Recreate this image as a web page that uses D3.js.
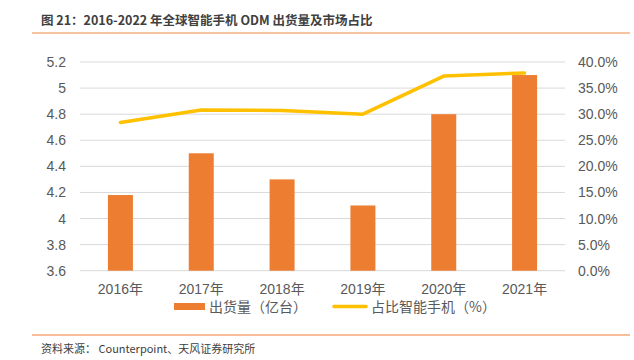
<!DOCTYPE html>
<html>
<head>
<meta charset="UTF-8">
<title>ODM shipments</title>
<style>
    body { margin: 0; padding: 0; background: #fff; }
    svg { display: block; font-family: "Noto Sans CJK SC", "Liberation Sans", sans-serif; }
</style>
</head>
<body>
<svg width="634" height="360"></svg>
<script src="https://cdnjs.cloudflare.com/ajax/libs/d3/7.8.5/d3.min.js"></script>
<script>
    var years = ["2016年", "2017年", "2018年", "2019年", "2020年", "2021年"];
    var shipments = [4.18, 4.5, 4.3, 4.1, 4.8, 5.1];
    var share = [0.284, 0.308, 0.307, 0.300, 0.373, 0.379];
    var leftTicks = [3.6, 3.8, 4, 4.2, 4.4, 4.6, 4.8, 5, 5.2];
    var rightTicks = [0, 0.05, 0.1, 0.15, 0.2, 0.25, 0.3, 0.35, 0.4];

    var svg = d3.select("svg"),
        plotL = 80, plotR = 565, plotT = 62, plotB = 270.7;

    var x = d3.scaleBand().domain(years).range([plotL, plotR]);
    var y = d3.scaleLinear().domain([3.6, 5.2]).range([plotB, plotT]);
    var y2 = d3.scaleLinear().domain([0, 0.4]).range([plotB, plotT]);

    // title + rules
    svg.append("text").attr("x", 41).attr("y", 25)
        .attr("font-size", 12.5).attr("font-weight", "bold").attr("fill", "#404040")
        .text("图 21：2016-2022 年全球智能手机 ODM 出货量及市场占比");
    svg.append("line").attr("x1", 32).attr("x2", 630).attr("y1", 33).attr("y2", 33)
        .attr("stroke", "#F4B183").attr("stroke-width", 1.5);
    svg.append("line").attr("x1", 32).attr("x2", 630).attr("y1", 335).attr("y2", 335)
        .attr("stroke", "#ED7D31").attr("stroke-width", 1);
    svg.append("text").attr("x", 41).attr("y", 353)
        .attr("font-size", 11).attr("fill", "#404040")
        .text("资料来源： Counterpoint、天风证券研究所");

    // gridlines
    svg.append("g").selectAll("line").data(leftTicks).enter().append("line")
        .attr("x1", plotL).attr("x2", plotR)
        .attr("y1", function (d) { return y(d); }).attr("y2", function (d) { return y(d); })
        .attr("stroke", "#D9D9D9").attr("stroke-width", 1);

    // left axis
    var ya = svg.append("g").attr("transform", "translate(" + plotL + ",0)")
        .call(d3.axisLeft(y).tickValues(leftTicks).tickSize(0).tickPadding(14)
            .tickFormat(function (d) { return String(+d.toFixed(1)); }));
    ya.select(".domain").remove();
    ya.selectAll("text").attr("font-size", 14).attr("fill", "#595959")
        .attr("font-family", "Liberation Sans, sans-serif");

    // right axis
    var yb = svg.append("g").attr("transform", "translate(" + plotR + ",0)")
        .call(d3.axisRight(y2).tickValues(rightTicks).tickSize(0).tickPadding(13)
            .tickFormat(d3.format(".1%")));
    yb.select(".domain").remove();
    yb.selectAll("text").attr("font-size", 14).attr("fill", "#595959")
        .attr("font-family", "Liberation Sans, sans-serif");

    // x axis
    var xa = svg.append("g").attr("transform", "translate(0," + plotB + ")")
        .call(d3.axisBottom(x).tickSize(0).tickPadding(13));
    xa.select(".domain").remove();
    xa.selectAll("text").attr("font-size", 14).attr("fill", "#595959")
        .attr("font-family", "Liberation Sans, Noto Sans CJK SC, sans-serif");

    // bars
    var bw = 25;
    svg.append("g").selectAll("rect").data(shipments).enter().append("rect")
        .attr("x", function (d, i) { return x(years[i]) + x.bandwidth() / 2 - bw / 2; })
        .attr("width", bw)
        .attr("y", function (d) { return y(d); })
        .attr("height", function (d) { return plotB - y(d); })
        .attr("fill", "#ED7D31");

    // line
    var line = d3.line()
        .x(function (d, i) { return x(years[i]) + x.bandwidth() / 2; })
        .y(function (d) { return y2(d); });
    svg.append("path").datum(share).attr("d", line)
        .attr("fill", "none").attr("stroke", "#FFC000").attr("stroke-width", 3.5)
        .attr("stroke-linecap", "round").attr("stroke-linejoin", "round");

    // legend
    var lg = svg.append("g").attr("font-size", 14).attr("fill", "#595959");
    lg.append("rect").attr("x", 174).attr("y", 303).attr("width", 31).attr("height", 7).attr("fill", "#ED7D31");
    lg.append("text").attr("x", 209).attr("y", 312).text("出货量（亿台）");
    lg.append("line").attr("x1", 334).attr("x2", 366).attr("y1", 306.5).attr("y2", 306.5)
        .attr("stroke", "#FFC000").attr("stroke-width", 3.5).attr("stroke-linecap", "round");
    lg.append("text").attr("x", 371).attr("y", 312).text("占比智能手机（%）");
</script>
</body>
</html>
